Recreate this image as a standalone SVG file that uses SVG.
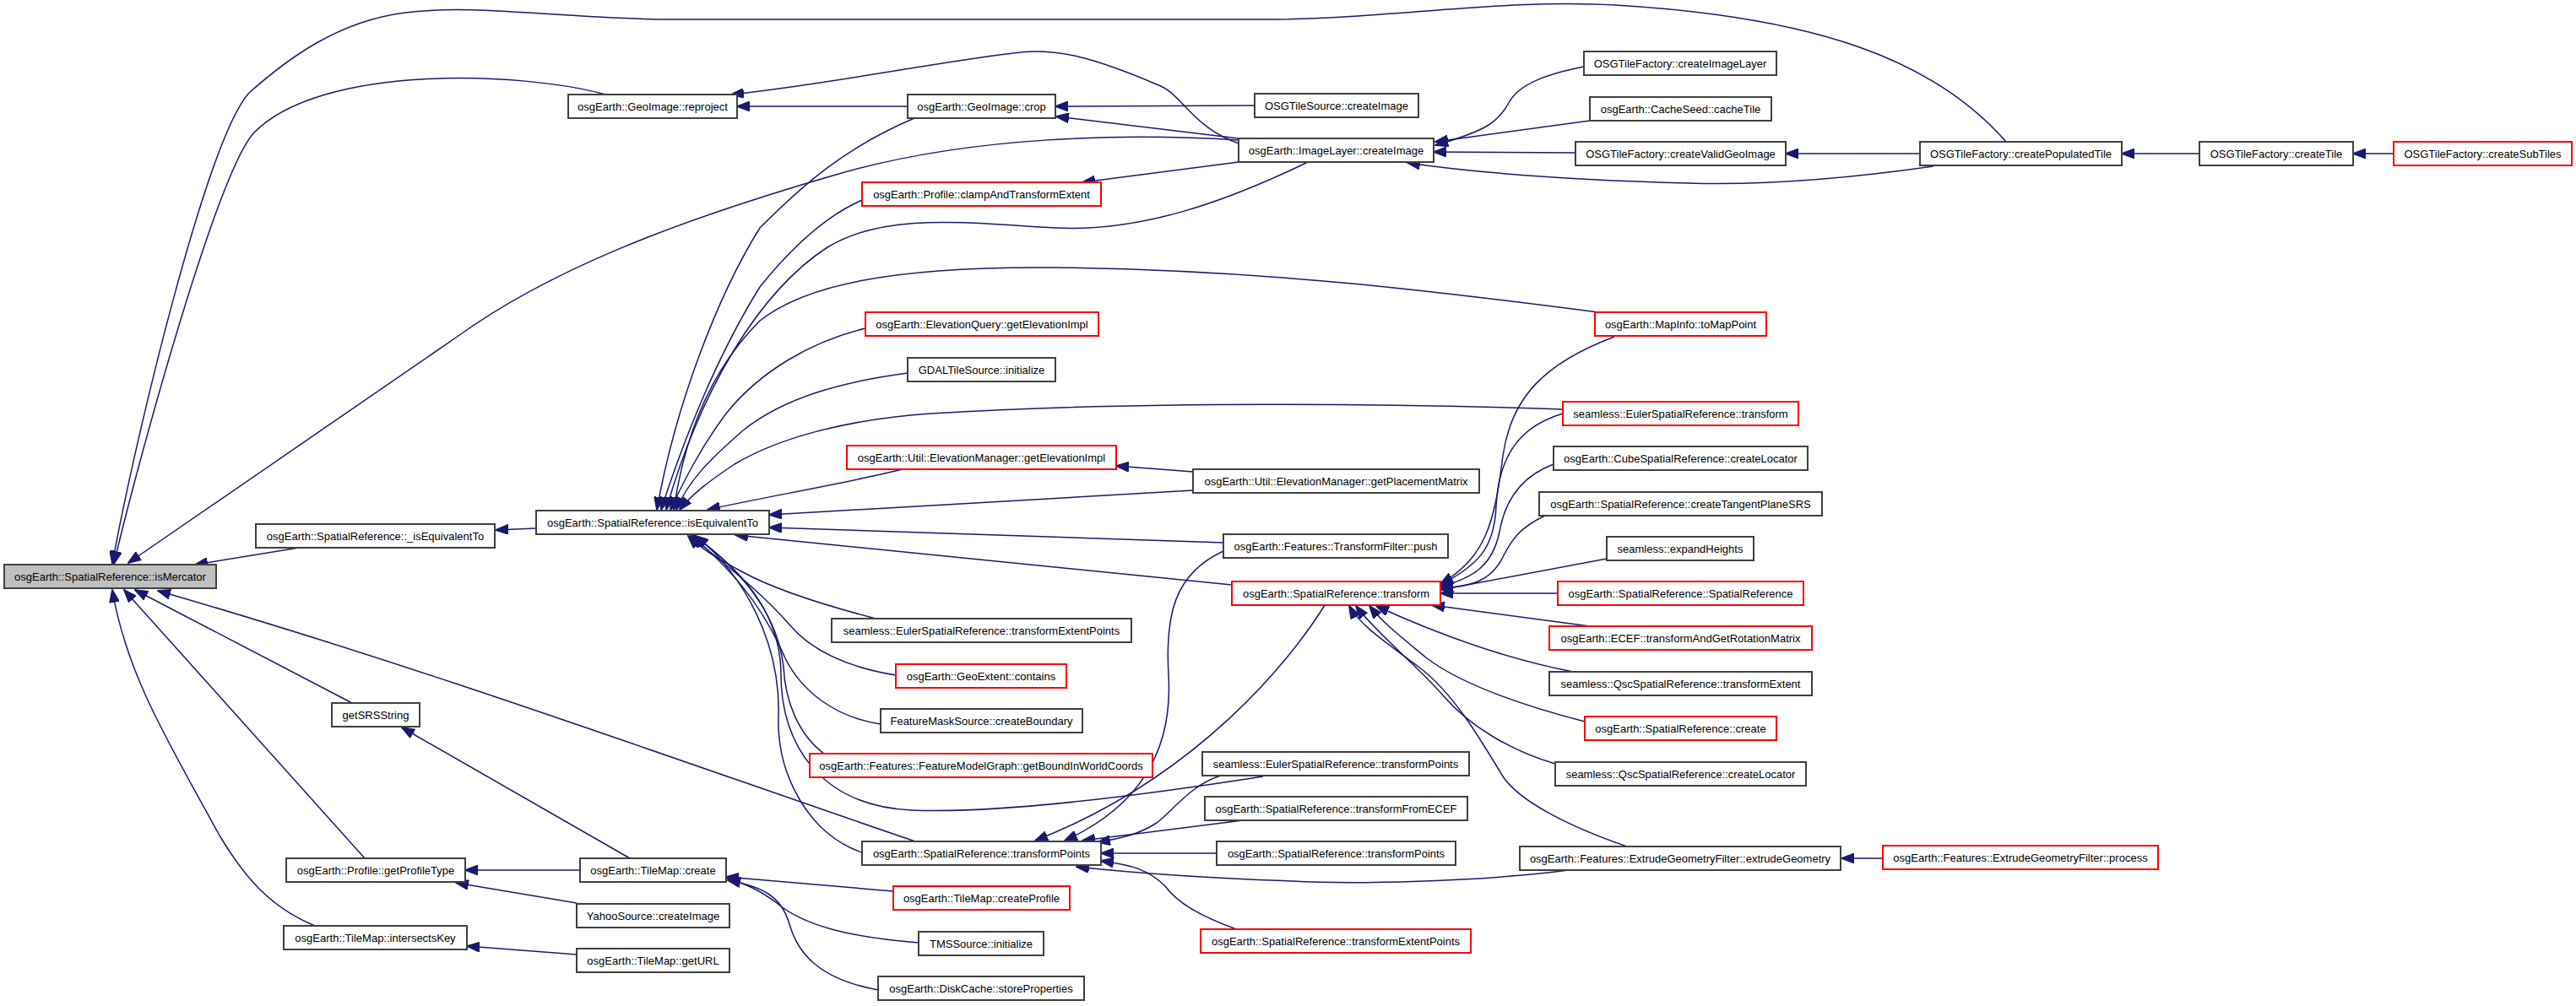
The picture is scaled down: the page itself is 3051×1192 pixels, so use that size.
<svg xmlns="http://www.w3.org/2000/svg" width="3051" height="1192" viewBox="0 0 3051 1192">
<style>
  .bg { fill: #ffffff; }
  .node rect { fill: #ffffff; stroke: #404040; stroke-width: 2; }
  .node.red rect { stroke: #ff0000; }
  .node.root rect { fill: #bfbfbf; }
  .node text { font-family: "Liberation Sans", Arial, sans-serif; font-size: 13px; fill: #000000; text-anchor: middle; }
  .edges path { fill: none; stroke: #191970; stroke-width: 1.5; marker-end: url(#arr); }
</style>
<defs>
  <marker id="arr" markerUnits="userSpaceOnUse" markerWidth="16" markerHeight="12" viewBox="0 0 16 12" refX="15" refY="6" orient="auto">
    <path d="M0,0 L16,6 L0,12 z" fill="#191970" stroke="#191970" stroke-width="1"/>
  </marker>
</defs>
<rect class="bg" x="0" y="0" width="3051" height="1192"/>

<g class="edges">
  <!-- callers of isMercator -->
  <path d="M354,649 L231,669"/>
  <path d="M635,626 L587,628"/>
  <path d="M717,112 C620,85 380,75 300,158 C255,210 160,560 135,668"/>
  <path d="M2376,168 C2290,70 2150,20 1913,6 C1780,-2 1640,23 1500,23 L780,23 C650,20 560,5 480,15 C400,25 340,70 295,110 C245,165 160,520 133,668"/>
  <path d="M1467,166 C1340,158 1150,160 990,207 C800,262 650,320 540,400 L152,667"/>
  <path d="M1084,997 C800,900 500,790 187,700"/>
  <path d="M417,833 L160,699"/>
  <path d="M432,1017 L147,699"/>
  <path d="M373,1097 C320,1075 290,1040 260,990 C200,880 150,800 133,699"/>

  <!-- callers of GeoImage::reproject / crop -->
  <path d="M1467,170 C1410,150 1400,110 1370,100 C1300,70 1250,55 1200,63 C1100,75 980,100 866,112"/>
  <path d="M1075,126 L873,126"/>
  <path d="M1486,125 L1250,126"/>
  <path d="M1467,164 L1251,138"/>
  <path d="M1467,192 L1282,216"/>

  <!-- callers of isEquivalentTo -->
  <path d="M1083,140 C1000,175 950,220 900,270 C850,350 800,480 778,604"/>
  <path d="M1021,237 C980,255 940,290 900,340 C850,420 810,520 783,604"/>
  <path d="M1549,192 C1450,240 1350,275 1250,270 C1150,265 1050,250 980,293 C900,345 830,460 789,604"/>
  <path d="M1025,389 C960,405 900,440 860,490 C830,530 810,570 794,604"/>
  <path d="M1893,370 C1700,345 1500,320 1250,317 C1050,315 950,340 900,380 C840,440 810,520 798,604"/>
  <path d="M1075,442 C1000,452 930,470 880,510 C840,545 815,570 801,604"/>
  <path d="M1851,485 C1650,478 1350,475 1103,490 C1000,497 920,520 870,550 C840,570 820,585 805,604"/>
  <path d="M1069,556 C1000,573 900,590 838,604"/>
  <path d="M1413,559 L1322,552"/>
  <path d="M1413,581 L911,610"/>
  <path d="M1449,643 L911,625"/>
  <path d="M1459,693 L871,634"/>
  <path d="M1037,733 C980,718 920,700 880,678 C850,662 830,650 815,635"/>
  <path d="M1061,800 C1000,790 960,770 935,740 C900,700 860,670 818,635"/>
  <path d="M1043,858 C990,850 950,820 930,780 C900,710 860,670 820,635"/>
  <path d="M976,893 C945,870 930,830 928,790 C920,720 870,670 822,635"/>
  <path d="M1496,920 C1400,935 1200,965 1080,960 C970,955 925,880 925,800 C925,720 870,670 823,635"/>
  <path d="M1021,1010 C960,990 920,920 922,850 C925,760 880,680 824,635"/>

  <!-- callers of TileMap / Profile -->
  <path d="M746,1017 L476,862"/>
  <path d="M687,1031 L551,1031"/>
  <path d="M683,1070 L540,1046"/>
  <path d="M683,1131 L553,1121"/>
  <path d="M1058,1056 L860,1039"/>
  <path d="M1088,1117 C1000,1110 950,1095 920,1070 C900,1055 885,1048 862,1041"/>
  <path d="M1040,1173 C970,1160 945,1130 935,1095 C925,1060 900,1050 862,1043"/>

  <!-- callers of SpatialReference::transformPoints -->
  <path d="M1569,717 C1530,780 1420,920 1226,996"/>
  <path d="M1449,653 C1390,680 1380,730 1384,800 C1390,900 1340,960 1261,996"/>
  <path d="M1446,919 C1410,930 1390,960 1370,975 C1350,988 1330,993 1300,998"/>
  <path d="M1472,972 L1282,996"/>
  <path d="M1441,1011 L1304,1011"/>
  <path d="M1858,1031 C1750,1045 1600,1048 1530,1044 C1420,1040 1330,1033 1275,1027"/>
  <path d="M1467,1102 C1420,1085 1395,1070 1380,1050 C1360,1030 1340,1025 1304,1020"/>

  <!-- callers of SpatialReference::transform -->
  <path d="M1912,399 C1830,430 1790,470 1780,540 C1770,620 1760,660 1706,692"/>
  <path d="M1851,490 C1800,505 1775,540 1772,600 C1770,650 1750,670 1706,693"/>
  <path d="M1840,550 C1800,565 1782,595 1776,630 C1768,670 1745,685 1706,695"/>
  <path d="M1830,611 C1800,625 1790,640 1780,660 C1765,690 1740,695 1706,697"/>
  <path d="M1903,662 L1706,699"/>
  <path d="M1845,703 L1706,703"/>
  <path d="M1883,742 L1696,717"/>
  <path d="M1863,796 C1780,780 1700,750 1630,718"/>
  <path d="M1877,855 C1800,835 1730,810 1690,780 C1660,755 1640,740 1622,718"/>
  <path d="M1842,905 C1790,890 1740,860 1710,825 C1680,790 1630,750 1606,718"/>
  <path d="M1927,1003 C1860,980 1800,950 1780,920 C1750,870 1720,820 1680,790 C1640,760 1610,740 1598,718"/>

  <!-- callers of ImageLayer::createImage and tile factory chain -->
  <path d="M1866,181 L1698,180"/>
  <path d="M1876,79 C1830,88 1800,100 1788,120 C1775,145 1760,155 1700,172"/>
  <path d="M1883,143 L1700,168"/>
  <path d="M2290,197 C2200,210 2100,220 2000,217 C1850,213 1750,205 1667,193"/>
  <path d="M2274,182 L2115,182"/>
  <path d="M2605,182 L2513,182"/>
  <path d="M2835,182 L2787,182"/>
  <path d="M2230,1017 L2181,1017"/>
</g>

<g id="n_isMercator" class="node root"><rect x="5" y="669" width="251" height="28"/><text x="130.5" y="687.6">osgEarth::SpatialReference::isMercator</text></g>
<g id="n_reproject" class="node"><rect x="673" y="112" width="200" height="28"/><text x="773" y="130.6">osgEarth::GeoImage::reproject</text></g>
<g id="n_isEquivalentTo_" class="node"><rect x="303" y="621" width="283" height="28"/><text x="444.5" y="639.6">osgEarth::SpatialReference::_isEquivalentTo</text></g>
<g id="n_getSRSString" class="node"><rect x="393" y="833" width="104" height="28"/><text x="445" y="851.6">getSRSString</text></g>
<g id="n_getProfileType" class="node"><rect x="339" y="1017" width="212" height="28"/><text x="445" y="1035.6">osgEarth::Profile::getProfileType</text></g>
<g id="n_intersectsKey" class="node"><rect x="336" y="1097" width="217" height="28"/><text x="444.5" y="1115.6">osgEarth::TileMap::intersectsKey</text></g>
<g id="n_isEquivalentTo" class="node"><rect x="635" y="605" width="276" height="28"/><text x="773" y="623.6">osgEarth::SpatialReference::isEquivalentTo</text></g>
<g id="n_crop" class="node"><rect x="1075" y="112" width="175" height="28"/><text x="1162.5" y="130.6">osgEarth::GeoImage::crop</text></g>
<g id="n_clampAndTransformExtent" class="node red"><rect x="1021" y="216" width="283" height="28"/><text x="1162.5" y="234.6">osgEarth::Profile::clampAndTransformExtent</text></g>
<g id="n_eq_getElevationImpl" class="node red"><rect x="1025" y="370" width="276" height="28"/><text x="1163" y="388.6">osgEarth::ElevationQuery::getElevationImpl</text></g>
<g id="n_gdal_initialize" class="node"><rect x="1075" y="424" width="175" height="28"/><text x="1162.5" y="442.6">GDALTileSource::initialize</text></g>
<g id="n_em_getElevationImpl" class="node red"><rect x="1003" y="528" width="319" height="28"/><text x="1162.5" y="546.6">osgEarth::Util::ElevationManager::getElevationImpl</text></g>
<g id="n_euler_transformExtentPoints" class="node"><rect x="985" y="733" width="355" height="28"/><text x="1162.5" y="751.6">seamless::EulerSpatialReference::transformExtentPoints</text></g>
<g id="n_contains" class="node red"><rect x="1061" y="787" width="202" height="28"/><text x="1162" y="805.6">osgEarth::GeoExtent::contains</text></g>
<g id="n_createBoundary" class="node"><rect x="1043" y="840" width="239" height="28"/><text x="1162.5" y="858.6">FeatureMaskSource::createBoundary</text></g>
<g id="n_getBoundInWorldCoords" class="node red"><rect x="959" y="893" width="406" height="28"/><text x="1162" y="911.6">osgEarth::Features::FeatureModelGraph::getBoundInWorldCoords</text></g>
<g id="n_transformPoints" class="node"><rect x="1021" y="997" width="283" height="28"/><text x="1162.5" y="1015.6">osgEarth::SpatialReference::transformPoints</text></g>
<g id="n_tilemap_create" class="node"><rect x="687" y="1017" width="173" height="28"/><text x="773.5" y="1035.6">osgEarth::TileMap::create</text></g>
<g id="n_yahoo_createImage" class="node"><rect x="683" y="1071" width="181" height="28"/><text x="773.5" y="1089.6">YahooSource::createImage</text></g>
<g id="n_getURL" class="node"><rect x="683" y="1124" width="181" height="28"/><text x="773.5" y="1142.6">osgEarth::TileMap::getURL</text></g>
<g id="n_createProfile" class="node red"><rect x="1058" y="1050" width="209" height="28"/><text x="1162.5" y="1068.6">osgEarth::TileMap::createProfile</text></g>
<g id="n_tms_initialize" class="node"><rect x="1088" y="1104" width="148" height="28"/><text x="1162" y="1122.6">TMSSource::initialize</text></g>
<g id="n_storeProperties" class="node"><rect x="1040" y="1157" width="244" height="28"/><text x="1162" y="1175.6">osgEarth::DiskCache::storeProperties</text></g>
<g id="n_osgtilesource_createImage" class="node"><rect x="1486" y="111" width="194" height="28"/><text x="1583" y="129.6">OSGTileSource::createImage</text></g>
<g id="n_imagelayer_createImage" class="node"><rect x="1467" y="164" width="231" height="28"/><text x="1582.5" y="182.6">osgEarth::ImageLayer::createImage</text></g>
<g id="n_toMapPoint" class="node red"><rect x="1889" y="370" width="203" height="28"/><text x="1990.5" y="388.6">osgEarth::MapInfo::toMapPoint</text></g>
<g id="n_getPlacementMatrix" class="node"><rect x="1413" y="556" width="339" height="28"/><text x="1582.5" y="574.6">osgEarth::Util::ElevationManager::getPlacementMatrix</text></g>
<g id="n_transformfilter_push" class="node"><rect x="1449" y="633" width="266" height="28"/><text x="1582" y="651.6">osgEarth::Features::TransformFilter::push</text></g>
<g id="n_transform" class="node red"><rect x="1459" y="689" width="247" height="28"/><text x="1582.5" y="707.6">osgEarth::SpatialReference::transform</text></g>
<g id="n_euler_transformPoints" class="node"><rect x="1424" y="891" width="316" height="28"/><text x="1582" y="909.6">seamless::EulerSpatialReference::transformPoints</text></g>
<g id="n_transformFromECEF" class="node"><rect x="1427" y="944" width="311" height="28"/><text x="1582.5" y="962.6">osgEarth::SpatialReference::transformFromECEF</text></g>
<g id="n_transformPoints_2" class="node"><rect x="1441" y="997" width="283" height="28"/><text x="1582.5" y="1015.6">osgEarth::SpatialReference::transformPoints</text></g>
<g id="n_transformExtentPoints" class="node red"><rect x="1422" y="1101" width="320" height="28"/><text x="1582" y="1119.6">osgEarth::SpatialReference::transformExtentPoints</text></g>
<g id="n_createImageLayer" class="node"><rect x="1876" y="61" width="228" height="28"/><text x="1990" y="79.6">OSGTileFactory::createImageLayer</text></g>
<g id="n_cacheTile" class="node"><rect x="1883" y="115" width="215" height="28"/><text x="1990.5" y="133.6">osgEarth::CacheSeed::cacheTile</text></g>
<g id="n_createValidGeoImage" class="node"><rect x="1866" y="168" width="249" height="28"/><text x="1990.5" y="186.6">OSGTileFactory::createValidGeoImage</text></g>
<g id="n_createPopulatedTile" class="node"><rect x="2274" y="168" width="239" height="28"/><text x="2393.5" y="186.6">OSGTileFactory::createPopulatedTile</text></g>
<g id="n_createTile" class="node"><rect x="2605" y="168" width="182" height="28"/><text x="2696" y="186.6">OSGTileFactory::createTile</text></g>
<g id="n_createSubTiles" class="node red"><rect x="2835" y="168" width="211" height="28"/><text x="2940.5" y="186.6">OSGTileFactory::createSubTiles</text></g>
<g id="n_euler_transform" class="node red"><rect x="1851" y="476" width="279" height="28"/><text x="1990.5" y="494.6">seamless::EulerSpatialReference::transform</text></g>
<g id="n_cube_createLocator" class="node"><rect x="1840" y="529" width="301" height="28"/><text x="1990.5" y="547.6">osgEarth::CubeSpatialReference::createLocator</text></g>
<g id="n_createTangentPlaneSRS" class="node"><rect x="1823" y="583" width="335" height="28"/><text x="1990.5" y="601.6">osgEarth::SpatialReference::createTangentPlaneSRS</text></g>
<g id="n_expandHeights" class="node"><rect x="1903" y="636" width="174" height="28"/><text x="1990" y="654.6">seamless::expandHeights</text></g>
<g id="n_spatialReference" class="node red"><rect x="1845" y="689" width="291" height="28"/><text x="1990.5" y="707.6">osgEarth::SpatialReference::SpatialReference</text></g>
<g id="n_ecef" class="node red"><rect x="1835" y="742" width="311" height="28"/><text x="1990.5" y="760.6">osgEarth::ECEF::transformAndGetRotationMatrix</text></g>
<g id="n_qsc_transformExtent" class="node"><rect x="1835" y="796" width="311" height="28"/><text x="1990.5" y="814.6">seamless::QscSpatialReference::transformExtent</text></g>
<g id="n_sr_create" class="node red"><rect x="1877" y="849" width="227" height="28"/><text x="1990.5" y="867.6">osgEarth::SpatialReference::create</text></g>
<g id="n_qsc_createLocator" class="node"><rect x="1842" y="903" width="297" height="28"/><text x="1990.5" y="921.6">seamless::QscSpatialReference::createLocator</text></g>
<g id="n_extrudeGeometry" class="node"><rect x="1800" y="1003" width="380" height="28"/><text x="1990" y="1021.6">osgEarth::Features::ExtrudeGeometryFilter::extrudeGeometry</text></g>
<g id="n_process" class="node red"><rect x="2230" y="1002" width="326" height="28"/><text x="2393" y="1020.6">osgEarth::Features::ExtrudeGeometryFilter::process</text></g>
</svg>
